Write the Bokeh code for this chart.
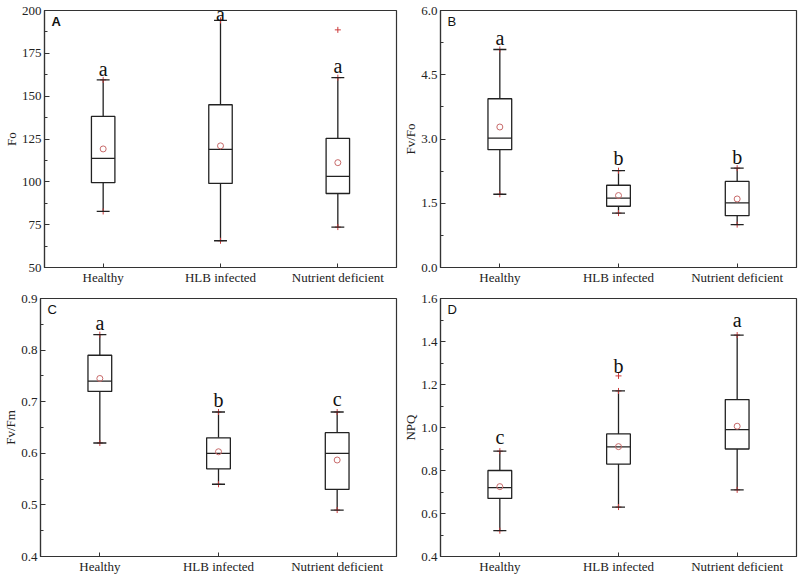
from bokeh.plotting import figure
from bokeh.models import Range1d, FixedTicker, SingleIntervalTicker, Label, PrintfTickFormatter
from bokeh.layouts import column, row
from bokeh.embed import file_html
from bokeh.resources import INLINE

groups = ["Healthy", "HLB infected", "Nutrient deficient"]

# Panel A: Fo
fo_min = [82.7, 65.6, 73.6]
fo_q1 = [99.5, 99.1, 93.2]
fo_med = [113.7, 119.0, 103.2]
fo_q3 = [138.2, 145.0, 125.4]
fo_max = [159.5, 194.2, 160.8]
fo_mean = [119.2, 121.0, 111.2]
fo_out_x = [3]
fo_out_y = [188.7]
fo_letters = ["a", "a", "a"]
fo_letter_y = [166.0, 198.0, 167.5]

# Panel B: Fv/Fo
fvfo_min = [1.71, 1.27, 1.00]
fvfo_q1 = [2.75, 1.43, 1.21]
fvfo_med = [3.02, 1.62, 1.51]
fvfo_q3 = [3.94, 1.92, 2.01]
fvfo_max = [5.09, 2.26, 2.32]
fvfo_mean = [3.28, 1.68, 1.60]
fvfo_out_x = []
fvfo_out_y = []
fvfo_letters = ["a", "b", "b"]
fvfo_letter_y = [5.36, 2.56, 2.59]

# Panel C: Fv/Fm
fvfm_min = [0.62, 0.54, 0.49]
fvfm_q1 = [0.72, 0.57, 0.53]
fvfm_med = [0.74, 0.60, 0.60]
fvfm_q3 = [0.79, 0.63, 0.64]
fvfm_max = [0.83, 0.68, 0.68]
fvfm_mean = [0.745, 0.603, 0.587]
fvfm_out_x = []
fvfm_out_y = []
fvfm_letters = ["a", "b", "c"]
fvfm_letter_y = [0.853, 0.704, 0.706]

# Panel D: NPQ
npq_min = [0.52, 0.63, 0.71]
npq_q1 = [0.67, 0.83, 0.90]
npq_med = [0.72, 0.91, 0.99]
npq_q3 = [0.80, 0.97, 1.13]
npq_max = [0.89, 1.17, 1.43]
npq_mean = [0.725, 0.911, 1.006]
npq_out_x = [2]
npq_out_y = [1.24]
npq_letters = ["c", "b", "a"]
npq_letter_y = [0.956, 1.287, 1.498]

SERIF = "Liberation Serif"
SANS = "Liberation Sans"
RED = "#cc3b3b"
MEANC = "#c86a6a"


def panel(tag, bold, ytitle, y0, y1, yint, vmin, q1, med, q3, vmax, mean,
          ox, oy, letters, ly, w, h, borders, ylabfmt):
    p = figure(width=w, height=h, output_backend="svg", toolbar_location=None,
               x_range=Range1d(0.5, 3.5), y_range=Range1d(y0, y1),
               min_border_left=borders[0], min_border_right=borders[1],
               min_border_top=borders[2], min_border_bottom=borders[3])
    p.grid.visible = False
    p.outline_line_color = "#333333"
    p.outline_line_width = 1.2
    p.background_fill_color = "white"
    p.border_fill_color = "white"

    xs = [1, 2, 3]
    hw = 0.1
    cw = 0.055
    p.segment(x0=xs, y0=q3, x1=xs, y1=vmax, line_color="#222222", line_width=1.3)
    p.segment(x0=xs, y0=q1, x1=xs, y1=vmin, line_color="#222222", line_width=1.3)
    p.scatter(x=xs, y=vmax, marker="cross", size=6, line_color=RED, line_width=1)
    p.scatter(x=xs, y=vmin, marker="cross", size=6, line_color=RED, line_width=1)
    p.segment(x0=[x - cw for x in xs], y0=vmax, x1=[x + cw for x in xs], y1=vmax,
              line_color="#222222", line_width=1.3)
    p.segment(x0=[x - cw for x in xs], y0=vmin, x1=[x + cw for x in xs], y1=vmin,
              line_color="#222222", line_width=1.3)
    p.quad(left=[x - hw for x in xs], right=[x + hw for x in xs], bottom=q1, top=q3,
           fill_color="white", line_color="#222222", line_width=1.3)
    p.segment(x0=[x - hw for x in xs], y0=med, x1=[x + hw for x in xs], y1=med,
              line_color="#222222", line_width=1.3)
    p.scatter(x=xs, y=mean, marker="circle", size=6, fill_color=None,
              line_color=MEANC, line_width=1)
    if ox:
        p.scatter(x=ox, y=oy, marker="cross", size=6, line_color=RED, line_width=1)
    for x, t, yy in zip(xs, letters, ly):
        p.add_layout(Label(x=x, y=yy, text=t, text_font=SERIF, text_font_size="20px",
                           text_align="center", text_baseline="alphabetic",
                           text_color="#111111"))
    span = y1 - y0
    p.add_layout(Label(x=0.56, y=y1 - 0.012 * span, text=tag, text_font=SANS,
                       text_font_size="13px",
                       text_font_style="bold" if bold else "normal",
                       text_align="left", text_baseline="top", text_color="#111111"))

    xa = p.xaxis[0]
    xa.ticker = FixedTicker(ticks=xs, minor_ticks=[])
    xa.major_label_overrides = {1: groups[0], 2: groups[1], 3: groups[2]}
    xa.major_tick_in = 4
    xa.major_tick_out = 0
    xa.minor_tick_in = 0
    xa.minor_tick_out = 0
    xa.major_label_text_font = SERIF
    xa.major_label_text_font_size = "13px"
    xa.major_label_text_color = "#222222"
    xa.major_label_standoff = 2
    xa.axis_line_color = "#333333"
    xa.axis_line_width = 1.2
    xa.major_tick_line_color = "#333333"

    ya = p.yaxis[0]
    ya.ticker = SingleIntervalTicker(interval=yint, num_minor_ticks=2)
    ya.major_tick_in = 5
    ya.major_tick_out = 0
    ya.minor_tick_in = 3
    ya.minor_tick_out = 0
    ya.major_label_text_font = SERIF
    ya.major_label_text_font_size = "13px"
    ya.major_label_text_color = "#222222"
    ya.major_label_standoff = 3
    ya.axis_label = ytitle
    ya.axis_label_text_font = SERIF
    ya.axis_label_text_font_size = "13px"
    ya.axis_label_text_font_style = "normal"
    ya.axis_label_text_color = "#222222"
    ya.axis_label_standoff = 0
    ya.axis_line_color = "#333333"
    ya.axis_line_width = 1.2
    ya.major_tick_line_color = "#333333"
    ya.minor_tick_line_color = "#333333"
    ya.formatter = PrintfTickFormatter(format=ylabfmt)
    return p


pA = panel("A", True, "Fo", 50, 200, 25, fo_min, fo_q1, fo_med, fo_q3, fo_max, fo_mean,
           fo_out_x, fo_out_y, fo_letters, fo_letter_y, 400, 289, (43, 4, 10, 22), "%d")
pB = panel("B", False, "Fv/Fo", 0, 6, 1.5, fvfo_min, fvfo_q1, fvfo_med, fvfo_q3, fvfo_max,
           fvfo_mean, fvfo_out_x, fvfo_out_y, fvfo_letters, fvfo_letter_y, 398, 289,
           (40, 2, 10, 18), "%.1f")
pC = panel("C", False, "Fv/Fm", 0.4, 0.9, 0.1, fvfm_min, fvfm_q1, fvfm_med, fvfm_q3,
           fvfm_max, fvfm_mean, fvfm_out_x, fvfm_out_y, fvfm_letters, fvfm_letter_y,
           400, 287, (40, 4, 9, 17), "%.1f")
pD = panel("D", False, "NPQ", 0.4, 1.6, 0.2, npq_min, npq_q1, npq_med, npq_q3, npq_max,
           npq_mean, npq_out_x, npq_out_y, npq_letters, npq_letter_y, 398, 287,
           (37, 2, 9, 17), "%.1f")

layout = column(row(pA, pB), row(pC, pD))
open("out.html", "w").write(file_html(layout, INLINE))
